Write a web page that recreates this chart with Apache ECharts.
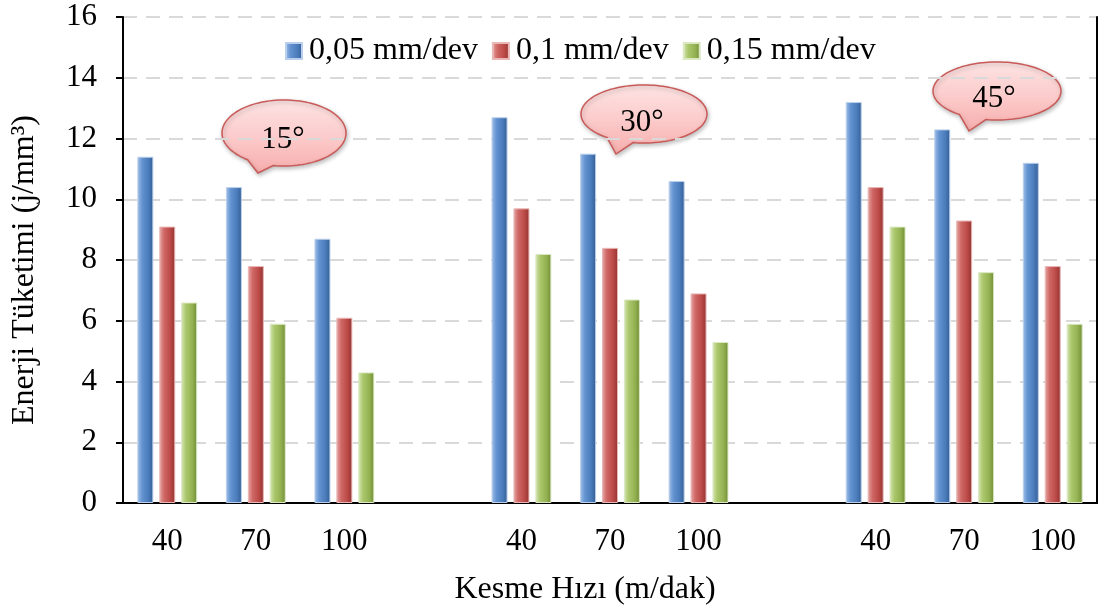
<!DOCTYPE html>
<html><head><meta charset="utf-8">
<script src="https://cdn.jsdelivr.net/npm/echarts@6/dist/echarts.min.js"></script>
<style>html,body{margin:0;padding:0;background:#fff}#c{width:1099px;height:612px}</style>
</head><body><div id="c"></div>
<script>
var categories = ['40','70','100','','40','70','100','','40','70','100'];
var s005 = [11.4, 10.4, 8.7, null, 12.7, 11.5, 10.6, null, 13.2, 12.3, 11.2];
var s01  = [9.1, 7.8, 6.1, null, 9.7, 8.4, 6.9, null, 10.4, 9.3, 7.8];
var s015 = [6.6, 5.9, 4.3, null, 8.2, 6.7, 5.3, null, 9.1, 7.6, 5.9];
var seriesNames = ['0,05 mm/dev', '0,1 mm/dev', '0,15 mm/dev'];
var angleLabels = ['15°', '30°', '45°'];

var FONT = '"Liberation Serif", "Times New Roman", serif';

function lin(x2, y2, stops) {
  return {type: 'linear', x: 0, y: 0, x2: x2, y2: y2, global: false,
    colorStops: stops.map(function (s) { return {offset: s[0], color: s[1]}; })};
}
function grad(c0, c1, c2, c3) {
  return lin(1, 0, [[0, c0], [0.3, c1], [0.7, c2], [1, c3]]);
}
function bubblePoints(cx, cy, rx, ry, tx, ty, a1, a2) {
  var pts = [];
  var start = a2, end = a1 + 360;
  var n = 120;
  for (var i = 0; i <= n; i++) {
    var a = (start + (end - start) * i / n) * Math.PI / 180;
    pts.push([cx + rx * Math.cos(a), cy + ry * Math.sin(a)]);
  }
  pts.push([tx, ty]);
  return pts;
}
function bubble(cx, cy, rx, ry, tx, ty, label, textX, textY) {
  return {
    type: 'group',
    children: [
      {
        type: 'polygon',
        shape: {points: bubblePoints(cx, cy, rx, ry, tx, ty, 100, 126)},
        style: {
          fill: lin(0, 1, [[0, '#fde4e4'], [0.5, '#fccbcb'], [1, '#f6adac']]),
          stroke: '#c85a58', lineWidth: 1.5,
          shadowBlur: 4, shadowColor: 'rgba(0,0,0,0.25)', shadowOffsetX: 1, shadowOffsetY: 2
        }
      },
      {
        type: 'text',
        x: textX, y: textY,
        style: {text: label, font: '31px ' + FONT, fill: '#000', align: 'center', verticalAlign: 'middle'}
      }
    ]
  };
}

var chart = echarts.init(document.getElementById('c'));
var barCommon = {type: 'bar', barWidth: 16, barGap: '37%'};
var frameLine = {show: true, lineStyle: {color: '#000', width: 2}};
chart.setOption({
  backgroundColor: '#fff',
  animation: false,
  grid: {left: 123, right: 2, top: 17, bottom: 109},
  legend: {
    left: 280, top: 30, itemWidth: 16, itemHeight: 16, itemGap: 14,
    icon: 'rect',
    textStyle: {fontFamily: FONT, fontSize: 32, color: '#000', padding: [0, 0, 0, 2]},
    data: seriesNames
  },
  xAxis: [{
    type: 'category', data: categories,
    name: 'Kesme Hızı (m/dak)', nameLocation: 'middle', nameGap: 71,
    nameTextStyle: {fontFamily: FONT, fontSize: 32, color: '#000', padding: [0, 50, 0, 0]},
    axisLine: {lineStyle: {color: '#000', width: 2}},
    axisTick: {length: 9, lineStyle: {color: '#000', width: 2}},
    axisLabel: {fontFamily: FONT, fontSize: 31, color: '#000', margin: 23, interval: 0}
  }, {
    type: 'category', data: categories, position: 'top',
    axisLine: frameLine, axisTick: {show: false}, axisLabel: {show: false}, splitLine: {show: false}
  }],
  yAxis: [{
    type: 'value', min: 0, max: 16, interval: 2,
    name: 'Enerji Tüketimi (j/mm³)', nameLocation: 'middle', nameGap: 82, nameRotate: 90,
    nameTextStyle: {fontFamily: FONT, fontSize: 32, color: '#000', padding: [0, 20, 0, 0]},
    axisLine: {show: true, lineStyle: {color: '#000', width: 2}},
    axisTick: {show: true, length: 7, lineStyle: {color: '#000', width: 2}},
    axisLabel: {fontFamily: FONT, fontSize: 31, color: '#000', margin: 26},
    splitLine: {lineStyle: {color: '#d9d9d9', width: 2, type: [14, 9]}}
  }, {
    type: 'value', min: 0, max: 16, interval: 2, position: 'right',
    axisLine: frameLine, axisTick: {show: false}, axisLabel: {show: false}, splitLine: {show: false}
  }],
  series: [
    Object.assign({}, barCommon, {name: seriesNames[0], data: s005,
      itemStyle: {color: grad('#a3c1e8', '#6393d1', '#4a7bba', '#345d92'), borderColor: '#b9cfeb', borderWidth: 1}}),
    Object.assign({}, barCommon, {name: seriesNames[1], data: s01,
      itemStyle: {color: grad('#e6a9a7', '#cf6866', '#bb4946', '#8f3432'), borderColor: '#eab7b6', borderWidth: 1}}),
    Object.assign({}, barCommon, {name: seriesNames[2], data: s015,
      itemStyle: {color: grad('#d6e6b5', '#abc76c', '#93b151', '#6f8c35'), borderColor: '#dbe8c2', borderWidth: 1}})
  ],
  graphic: [
    bubble(284, 133, 62, 33, 258, 173, angleLabels[0], 283, 140),
    bubble(644, 114, 63, 29, 616, 154, angleLabels[1], 642, 123),
    bubble(997, 91, 64, 29, 969, 131, angleLabels[2], 994, 99)
  ]
});
</script></body></html>
